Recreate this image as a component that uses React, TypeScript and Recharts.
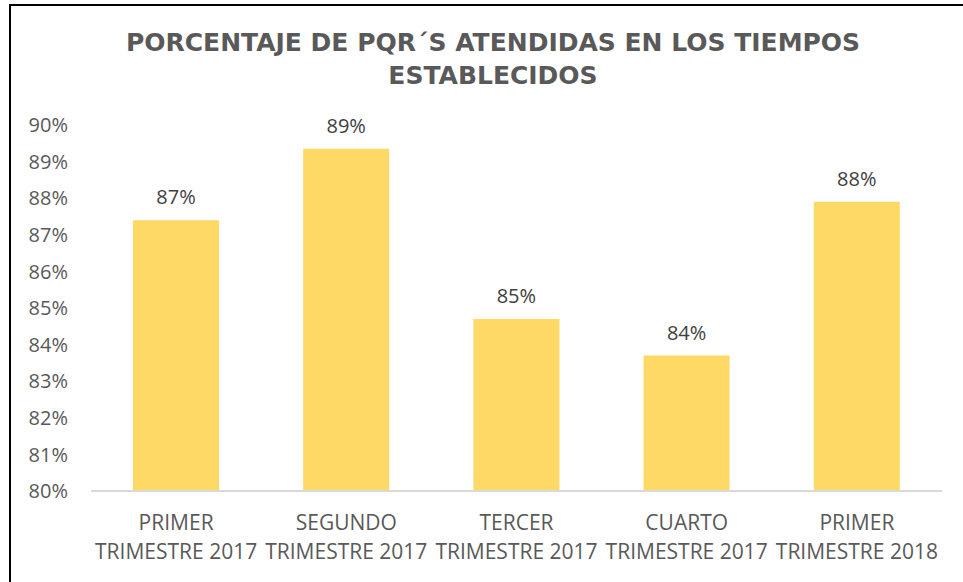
import React from "react";
import { BarChart, Bar, XAxis, YAxis } from "recharts";

const categories = [
  "PRIMER TRIMESTRE 2017",
  "SEGUNDO TRIMESTRE 2017",
  "TERCER TRIMESTRE 2017",
  "CUARTO TRIMESTRE 2017",
  "PRIMER TRIMESTRE 2018",
];
const porcentajes = [87.4, 89.35, 84.7, 83.7, 87.9];
const yTicks = [80, 81, 82, 83, 84, 85, 86, 87, 88, 89, 90];

const data = categories.map((c, i) => ({ name: c, value: porcentajes[i] }));

const FONT = "'Open Sans', sans-serif";
const GRAY = "#595959";

const pct = (v: number) => `${Math.round(v)}%`;

function CategoryTick(props: any) {
  const { x, y, payload } = props;
  const words = String(payload.value).split(" ");
  const first = words[0];
  const second = words.slice(1).join(" ");
  return (
    <g transform={`translate(${x},${y})`}>
      <text textAnchor="middle" fill={GRAY} fontFamily={FONT} fontSize={21}>
        <tspan x={0} y={31}>{first}</tspan>
        <tspan x={0} y={60}>{second}</tspan>
      </text>
    </g>
  );
}

function ValueLabel(props: any) {
  const { x, y, width, value } = props;
  return (
    <text
      x={Number(x) + Number(width) / 2}
      y={Number(y) - 16}
      textAnchor="middle"
      fill="#404040"
      fontFamily={FONT}
      fontSize={20}
    >
      {pct(Number(value))}
    </text>
  );
}

export default function App() {
  return (
    <div
      style={{
        position: "absolute",
        left: 0,
        top: 0,
        width: 963,
        height: 582,
        background: "#fff",
        overflow: "hidden",
      }}
    >
      <div
        style={{
          position: "absolute",
          left: 9,
          top: 4,
          width: 1200,
          height: 1200,
          borderLeft: "2px solid #000",
          borderTop: "2px solid #000",
        }}
      />
      <div
        style={{
          position: "absolute",
          left: 0,
          top: 26,
          width: 986,
          textAlign: "center",
          fontFamily: "'DejaVu Sans', sans-serif",
          fontWeight: "bold",
          fontSize: 25,
          lineHeight: "33px",
          color: GRAY,
        }}
      >
        PORCENTAJE DE PQR´S ATENDIDAS EN LOS TIEMPOS
        <br />
        ESTABLECIDOS
      </div>
      <div style={{ position: "absolute", left: 0, top: 0 }}>
        <BarChart
          width={963}
          height={582}
          data={data}
          margin={{ top: 125, right: 21, bottom: 0, left: 0 }}
          barCategoryGap={42}
        >
          <XAxis
            dataKey="name"
            axisLine={{ stroke: "#d9d9d9", strokeWidth: 2 }}
            tickLine={false}
            interval={0}
            tick={<CategoryTick />}
            height={91}
          />
          <YAxis
            width={91}
            domain={[80, 90]}
            ticks={yTicks}
            interval={0}
            axisLine={false}
            tickLine={false}
            tickSize={0}
            tickMargin={23}
            tickFormatter={pct}
            tick={{ fill: GRAY, fontFamily: FONT, fontSize: 20 }}
          />
          <Bar
            dataKey="value"
            fill="#FFD966"
            isAnimationActive={false}
            label={<ValueLabel />}
          />
        </BarChart>
      </div>
    </div>
  );
}
